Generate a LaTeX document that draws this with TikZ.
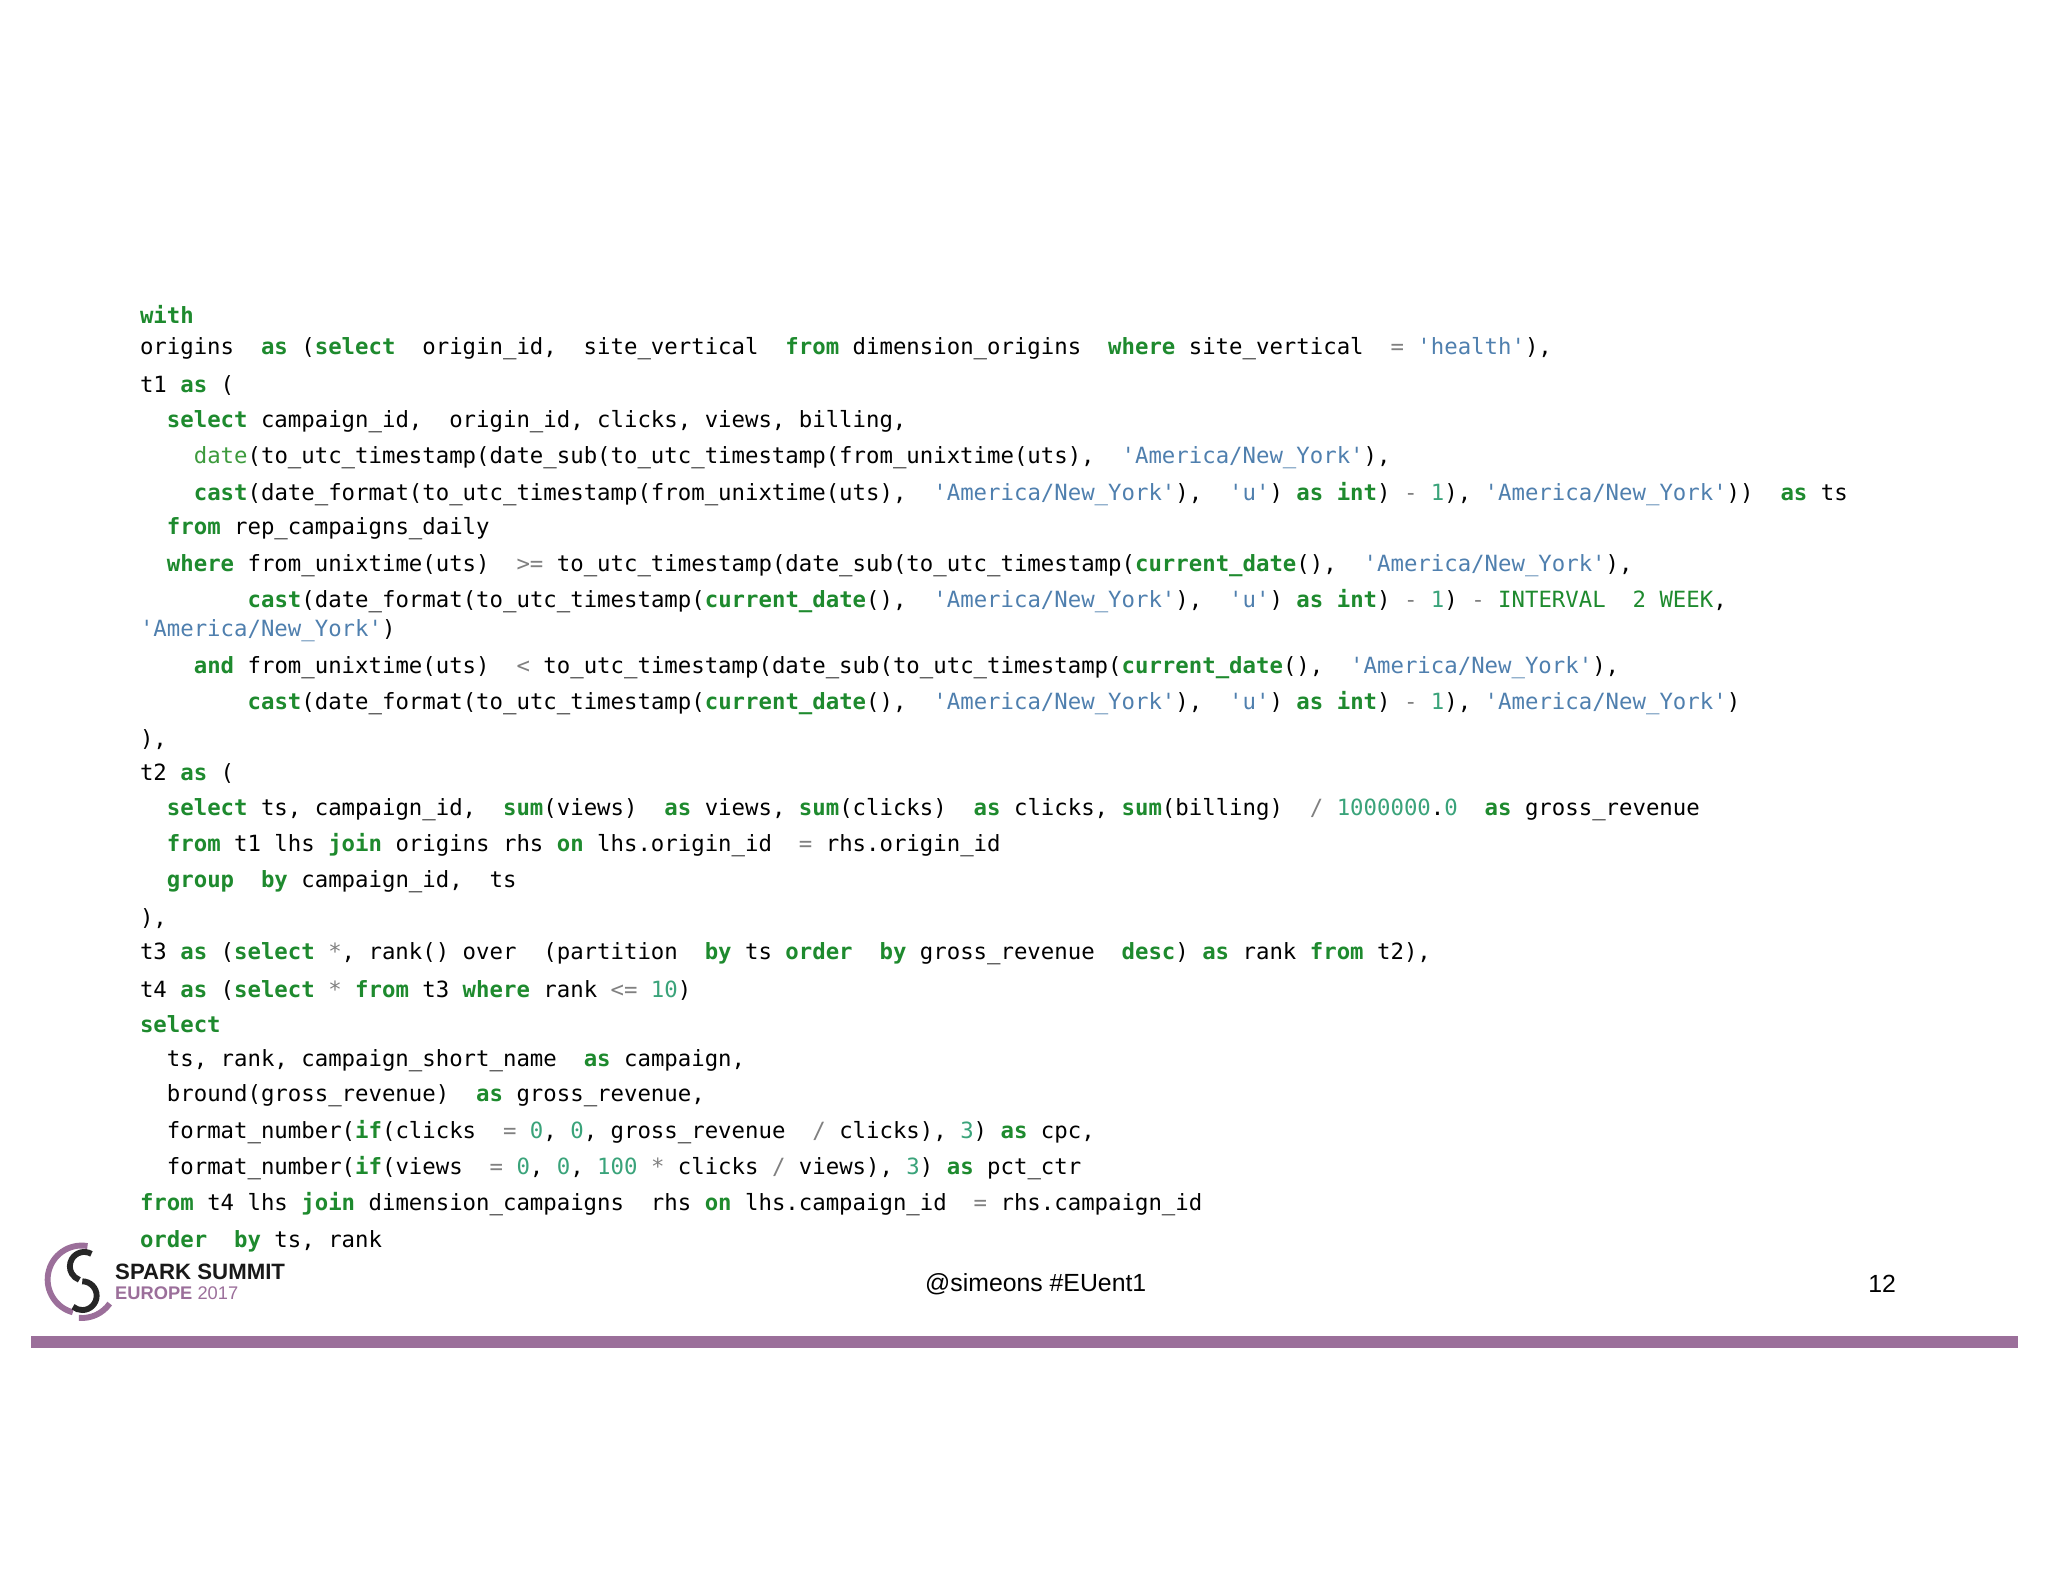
\documentclass[tikz,border=0pt]{standalone}
\usepackage{fontspec}
\setmainfont{Liberation Sans}
\newfontfamily\code[Ligatures=TeXOff]{DejaVu Sans Mono}
\definecolor{kw}{HTML}{1E8A2E}
\definecolor{fn}{HTML}{3C9A3C}
\definecolor{st}{HTML}{4F7FAE}
\definecolor{nm}{HTML}{3AA37A}
\definecolor{op}{HTML}{808080}
\definecolor{pur}{HTML}{9B6F9A}
\newcommand\K[1]{\textcolor{kw}{\bfseries #1}}
\newcommand\F[1]{\textcolor{fn}{#1}}
\newcommand\Sx[1]{\textcolor{st}{#1}}
\newcommand\Nx[1]{\textcolor{nm}{#1}}
\newcommand\Ox[1]{\textcolor{op}{#1}}
\newcommand\NY{\Sx{'America/New\_York'}}
\begin{document}
\begin{tikzpicture}[x=1pt,y=-1pt,
  ln/.style={anchor=west,inner sep=0pt,font=\code\fontsize{17.1}{20}\selectfont}]
\useasboundingbox (0,0) rectangle (1568,1211);
\def\c{10.3}
\node[ln] (l1) at (107,241) {\K{with}};
\node[ln] (l2) at (107,267) {origins~ \K{as} (\K{select}~ origin\_id,~ site\_vertical~ \K{from} dimension\_origins~ \K{where} site\_vertical~ \Ox{=} \Sx{'health'}),};
\node[ln] (l3) at (107,295) {t1 \K{as} (};
\node[ln] (l4) at (107+2*\c,323) {\K{select} campaign\_id,~ origin\_id, clicks, views, billing,};
\node[ln] (l5) at (107+4*\c,350) {\F{date}(to\_utc\_timestamp(date\_sub(to\_utc\_timestamp(from\_unixtime(uts),~ \NY),};
\node[ln] (l6) at (107+4*\c,378) {\K{cast}(date\_format(to\_utc\_timestamp(from\_unixtime(uts),~ \NY),~ \Sx{'u'}) \K{as} \K{int}) \Ox{-} \Nx{1}), \NY))~ \K{as} ts};
\node[ln] (l7) at (107+2*\c,405) {\K{from} rep\_campaigns\_daily};
\node[ln] (l8) at (107+2*\c,433) {\K{where} from\_unixtime(uts)~ \Ox{>=} to\_utc\_timestamp(date\_sub(to\_utc\_timestamp(\K{current\_date}(),~ \NY),};
\node[ln] (l9) at (107+8*\c,460) {\K{cast}(date\_format(to\_utc\_timestamp(\K{current\_date}(),~ \NY),~ \Sx{'u'}) \K{as} \K{int}) \Ox{-} \Nx{1}) \Ox{-} \textcolor{kw}{INTERVAL~ 2 WEEK},};
\node[ln] (l10) at (107,483) {\NY)};
\node[ln] (l11) at (107+4*\c,511) {\K{and} from\_unixtime(uts)~ \Ox{<} to\_utc\_timestamp(date\_sub(to\_utc\_timestamp(\K{current\_date}(),~ \NY),};
\node[ln] (l12) at (107+8*\c,538) {\K{cast}(date\_format(to\_utc\_timestamp(\K{current\_date}(),~ \NY),~ \Sx{'u'}) \K{as} \K{int}) \Ox{-} \Nx{1}), \NY)};
\node[ln] (l13) at (107,566) {),};
\node[ln] (l14) at (107,592) {t2 \K{as} (};
\node[ln] (l15) at (107+2*\c,620) {\K{select} ts, campaign\_id,~ \K{sum}(views)~ \K{as} views, \K{sum}(clicks)~ \K{as} clicks, \K{sum}(billing)~ \Ox{/} \Nx{1000000}.\Nx{0}~ \K{as} gross\_revenue};
\node[ln] (l16) at (107+2*\c,647) {\K{from} t1 lhs \K{join} origins rhs \K{on} lhs.origin\_id~ \Ox{=} rhs.origin\_id};
\node[ln] (l17) at (107+2*\c,675) {\K{group}~ \K{by} campaign\_id,~ ts};
\node[ln] (l18) at (107,703) {),};
\node[ln] (l19) at (107,730) {t3 \K{as} (\K{select} \Ox{*}, rank() over~ (partition~ \K{by} ts \K{order}~ \K{by} gross\_revenue~ \K{desc}) \K{as} rank \K{from} t2),};
\node[ln] (l20) at (107,758) {t4 \K{as} (\K{select} \Ox{*} \K{from} t3 \K{where} rank \Ox{<=} \Nx{10})};
\node[ln] (l21) at (107,784) {\K{select}};
\node[ln] (l22) at (107+2*\c,812) {ts, rank, campaign\_short\_name~ \K{as} campaign,};
\node[ln] (l23) at (107+2*\c,839) {bround(gross\_revenue)~ \K{as} gross\_revenue,};
\node[ln] (l24) at (107+2*\c,867) {format\_number(\K{if}(clicks~ \Ox{=} \Nx{0}, \Nx{0}, gross\_revenue~ \Ox{/} clicks), \Nx{3}) \K{as} cpc,};
\node[ln] (l25) at (107+2*\c,894) {format\_number(\K{if}(views~ \Ox{=} \Nx{0}, \Nx{0}, \Nx{100} \Ox{*} clicks \Ox{/} views), \Nx{3}) \K{as} pct\_ctr};
\node[ln] (l26) at (107,922) {\K{from} t4 lhs \K{join} dimension\_campaigns~ rhs \K{on} lhs.campaign\_id~ \Ox{=} rhs.campaign\_id};
\node[ln] (l27) at (107,950) {\K{order}~ \K{by} ts, rank};
% logo
\draw[pur,line width=4.5pt] (67,954) arc[start angle=80,end angle=255,radius=26pt];
\draw[pur,line width=4.5pt] (84,998) arc[start angle=-35,end angle=-95,radius=26pt];
\draw[black!85,line width=4.5pt] (70,960) arc[start angle=60,end angle=250,radius=11pt];
\draw[black!85,line width=4.5pt] (63,981) arc[start angle=90,end angle=-130,radius=11pt];
\node[anchor=west,inner sep=0pt,font=\bfseries\fontsize{17}{19}\selectfont,text=black!90] (logo1) at (88,974) {SPARK SUMMIT};
\node[anchor=west,inner sep=0pt,font=\fontsize{14}{16}\selectfont,text=pur] (logo2) at (88,990) {\textbf{EUROPE} 2017};
\node[inner sep=0pt,font=\fontsize{19}{21}\selectfont] (tw) at (793,983) {@simeons \#EUent1};
\node[inner sep=0pt,font=\fontsize{19}{21}\selectfont] (pg) at (1441,983) {12};
\fill[pur] (24,1023) rectangle (1545,1032);
\end{tikzpicture}
\end{document}
